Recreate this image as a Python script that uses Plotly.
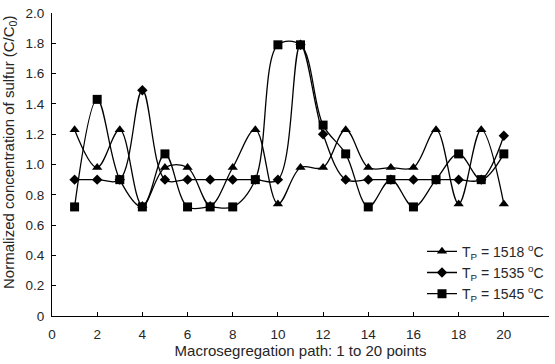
import plotly.graph_objects as go

# Sulfur macrosegregation profiles along the sampling path
points = list(range(1, 21))
tp_1518 = [1.23, 0.98, 1.23, 0.73, 0.98, 0.98, 0.73, 0.98, 1.23, 0.74,
           0.98, 0.98, 1.23, 0.98, 0.98, 0.98, 1.23, 0.74, 1.23, 0.74]
tp_1535 = [0.90, 0.90, 0.90, 1.49, 0.90, 0.90, 0.90, 0.90, 0.90, 0.90,
           1.79, 1.20, 0.90, 0.90, 0.90, 0.90, 0.90, 0.90, 0.90, 1.19]
tp_1545 = [0.72, 1.43, 0.90, 0.72, 1.07, 0.72, 0.72, 0.72, 0.90, 1.79,
           1.79, 1.26, 1.07, 0.72, 0.90, 0.72, 0.90, 1.07, 0.90, 1.07]

series_names = ["T<sub>P</sub> = 1518 <sup>o</sup>C",
                "T<sub>P</sub> = 1535 <sup>o</sup>C",
                "T<sub>P</sub> = 1545 <sup>o</sup>C"]

x_ticks = list(range(0, 23, 2))
y_ticks = [0, 0.2, 0.4, 0.6, 0.8, 1.0, 1.2, 1.4, 1.6, 1.8, 2.0]
y_tick_text = ["0", "0.2", "0.4", "0.6", "0.8", "1.0", "1.2", "1.4", "1.6", "1.8", "2.0"]

FONT = "Liberation Sans, Arial, sans-serif"
INK = "#262626"

fig = go.Figure()
styles = [("triangle-up", 9), ("diamond", 8), ("square", 9)]
for name, vals, (sym, size) in zip(series_names, [tp_1518, tp_1535, tp_1545], styles):
    fig.add_trace(go.Scatter(
        x=points, y=vals, name=name, mode="lines+markers",
        line=dict(color="black", width=1.3, shape="spline", smoothing=1.0),
        marker=dict(symbol=sym, size=size, color="black"),
    ))

fig.update_layout(
    width=555, height=364,
    margin=dict(l=52, r=6, t=13, b=48),
    paper_bgcolor="white", plot_bgcolor="white",
    font=dict(family=FONT, size=13.5, color=INK),
    legend=dict(x=1.0, xanchor="right", y=0.265, yanchor="top",
                bgcolor="rgba(0,0,0,0)", font=dict(size=14, color=INK),
                tracegroupgap=0, itemwidth=30),
    showlegend=True,
)
fig.update_xaxes(
    range=[0, 22], tickvals=x_ticks, ticktext=[str(v) for v in x_ticks],
    ticks="inside", ticklen=4, tickcolor="black", showline=True,
    linecolor="black", linewidth=1, showgrid=False, zeroline=False,
    ticklabelstandoff=6,
    title=dict(text="Macrosegregation path: 1 to 20 points",
               font=dict(size=15, color=INK), standoff=4),
)
fig.update_yaxes(
    range=[0, 2.0], tickvals=y_ticks, ticktext=y_tick_text,
    ticks="inside", ticklen=4, tickcolor="black", showline=True,
    linecolor="black", linewidth=1, showgrid=False, zeroline=False,
    ticklabelstandoff=4,
)

# Rotated y-axis title, placed slightly above the plot's mid-height
fig.add_annotation(
    text="Normalized concentration of sulfur (C/C<sub>0</sub>)",
    xref="paper", yref="paper", x=0, y=0.538, xanchor="center", yanchor="middle",
    xshift=-42, textangle=-90, showarrow=False,
    font=dict(size=15, color=INK),
)

fig.write_html("out.html")
